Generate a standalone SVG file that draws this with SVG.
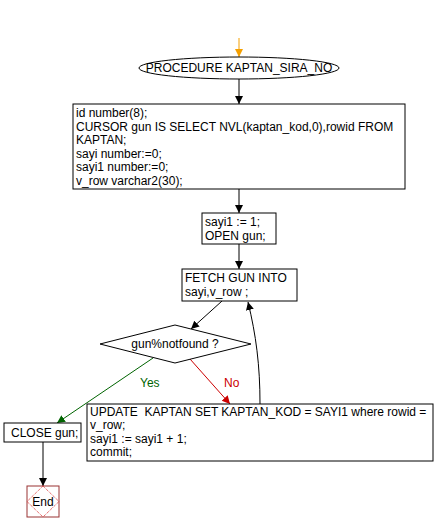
<svg xmlns="http://www.w3.org/2000/svg" width="436" height="532" viewBox="0 0 436 532">
<defs>
<style>
text{font-family:"Liberation Sans",Arial,sans-serif;font-size:12px;fill:#000}
.box{fill:#fff;stroke:#000;stroke-width:1}
.ln{fill:none;stroke:#000;stroke-width:1}
</style>
<marker id="ah" viewBox="0 0 10 10" refX="10" refY="5" markerWidth="8" markerHeight="12" markerUnits="userSpaceOnUse" orient="auto"><path d="M0,0L10,5L0,10z" fill="#000"/></marker>
<marker id="ao" viewBox="0 0 10 10" refX="10" refY="5" markerWidth="8" markerHeight="12" markerUnits="userSpaceOnUse" orient="auto"><path d="M0,0L10,5L0,10z" fill="#f5a000"/></marker>
<marker id="ag" viewBox="0 0 10 10" refX="10" refY="5" markerWidth="8" markerHeight="12" markerUnits="userSpaceOnUse" orient="auto"><path d="M0,0L10,5L0,10z" fill="#006400"/></marker>
<marker id="ar" viewBox="0 0 10 10" refX="10" refY="5" markerWidth="8" markerHeight="12" markerUnits="userSpaceOnUse" orient="auto"><path d="M0,0L10,5L0,10z" fill="#cc0000"/></marker>
</defs>
<rect width="436" height="532" fill="#fff"/>
<g id="connectors">
<path d="M239,38V57" fill="none" stroke="#f5a000" marker-end="url(#ao)"/>
<path class="ln" d="M239,79V104" marker-end="url(#ah)"/>
<path class="ln" d="M239,189V213" marker-end="url(#ah)"/>
<path class="ln" d="M239,244V269" marker-end="url(#ah)"/>
<path class="ln" d="M222,301L191,329" marker-end="url(#ah)"/>
<path d="M153,358L57,423" fill="none" stroke="#006400" marker-end="url(#ag)"/>
<text x="140" y="387" style="fill:#006400">Yes</text>
<path d="M190,359L230,404" fill="none" stroke="#cc0000" marker-end="url(#ar)"/>
<text x="224" y="387" style="fill:#cc0000">No</text>
<path class="ln" d="M260,404C260,365 256,335 248,302" marker-end="url(#ah)"/>
<path class="ln" d="M43,442V486" marker-end="url(#ah)"/>
</g>
<g id="start">
<ellipse cx="239" cy="68" rx="100" ry="11" class="box"/>
<text x="239" y="72" text-anchor="middle">PROCEDURE KAPTAN_SIRA_NO</text>
</g>
<g id="decl">
<rect x="73" y="104" width="332" height="85" class="box"/>
<text x="76" y="117">id number(8);</text>
<text x="76" y="131">CURSOR gun IS SELECT NVL(kaptan_kod,0),rowid FROM</text>
<text x="76" y="144">KAPTAN;</text>
<text x="76" y="158">sayi number:=0;</text>
<text x="76" y="171">sayi1 number:=0;</text>
<text x="76" y="185">v_row varchar2(30);</text>
</g>
<g id="open">
<rect x="202" y="213" width="74" height="31" class="box"/>
<text x="205" y="226">sayi1 := 1;</text>
<text x="205" y="240">OPEN gun;</text>
</g>
<g id="fetch">
<rect x="182" y="269" width="115" height="32" class="box"/>
<text x="185" y="282">FETCH GUN INTO</text>
<text x="185" y="296">sayi,v_row ;</text>
</g>
<g id="cond">
<path d="M100,344L175,325L251,344L175,363z" class="box"/>
<text x="175" y="348" text-anchor="middle">gun%notfound ?</text>
</g>
<g id="update">
<rect x="87" y="404" width="346" height="57" class="box"/>
<text x="90" y="416" xml:space="preserve">UPDATE  KAPTAN SET KAPTAN_KOD = SAYI1 where rowid =</text>
<text x="90" y="429">v_row;</text>
<text x="90" y="443">sayi1 := sayi1 + 1;</text>
<text x="90" y="456">commit;</text>
</g>
<g id="close">
<rect x="4" y="423" width="77" height="19" class="box"/>
<text x="11" y="437">CLOSE gun;</text>
</g>
<g id="end">
<rect x="27" y="486" width="32" height="31" fill="#fff" stroke="#993333"/>
<path d="M43,486L59,501.5L43,517L27,501.5z" fill="none" stroke="#dd3333" stroke-dasharray="1,1"/>
<text x="43" y="506" text-anchor="middle">End</text>
</g>
</svg>
